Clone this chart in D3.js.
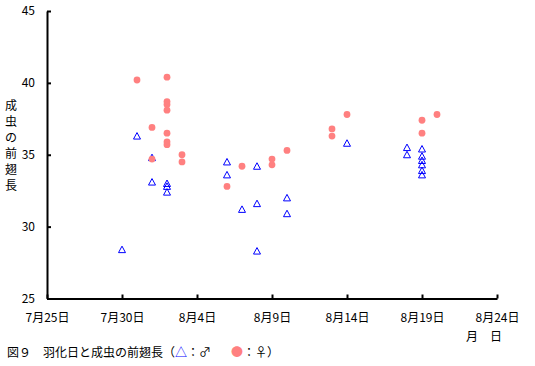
<!DOCTYPE html>
<html lang="ja">
<head>
<meta charset="UTF-8">
<title>羽化日と成虫の前翅長</title>
<script src="https://cdn.jsdelivr.net/npm/d3@7"></script>
<style>
  body { margin: 0; background: #fff; }
  svg { display: block; font-family: "Noto Sans CJK JP", sans-serif; }
</style>
</head>
<body>
<svg width="535" height="366"></svg>
<script>
// 羽化日 (月-日) と前翅長 (mm)
const maleDates = ["07-30", "07-31", "08-01", "08-01", "08-02", "08-02", "08-02",
  "08-06", "08-06", "08-07", "08-08", "08-08", "08-08", "08-10", "08-10", "08-14",
  "08-18", "08-18", "08-19", "08-19", "08-19", "08-19", "08-19", "08-19"];
const maleValues = [28.4, 36.3, 34.8, 33.1, 33.0, 32.8, 32.4,
  34.5, 33.6, 31.2, 34.2, 31.6, 28.3, 32.0, 30.9, 35.8,
  35.5, 35.0, 35.4, 34.9, 34.6, 34.3, 33.9, 33.6];

const femaleDates = ["07-31", "08-01", "08-01", "08-02", "08-02", "08-02", "08-02",
  "08-02", "08-02", "08-02", "08-03", "08-03", "08-06", "08-07", "08-09", "08-09",
  "08-10", "08-13", "08-13", "08-14", "08-19", "08-19", "08-20"];
const femaleValues = [40.2, 36.9, 34.7, 40.4, 38.7, 38.5, 38.1,
  36.5, 35.9, 35.7, 35.0, 34.5, 32.8, 34.2, 34.7, 34.3,
  35.3, 36.8, 36.3, 37.8, 37.4, 36.5, 37.8];

const xTicks = ["07-25", "07-30", "08-04", "08-09", "08-14", "08-19", "08-24"];
const yTicks = [25, 30, 35, 40, 45];

const parse = d3.utcParse("%Y-%m-%d");
const toDate = s => parse("2000-" + s);
const fmt = d => (d.getUTCMonth() + 1) + "月" + d.getUTCDate() + "日";

const svg = d3.select("svg");

const x = d3.scaleUtc()
  .domain([toDate("07-25"), toDate("08-24")])
  .range([47, 497]);
const y = d3.scaleLinear()
  .domain([25, 45])
  .range([298.5, 11]);

// axes
const xAxis = svg.append("g")
  .attr("transform", "translate(0,298.5)")
  .call(d3.axisBottom(x)
    .tickValues(xTicks.map(toDate))
    .tickFormat(fmt)
    .tickSize(-4)
    .tickSizeOuter(0)
    .tickPadding(15));

const yAxis = svg.append("g")
  .attr("transform", "translate(47,0)")
  .call(d3.axisLeft(y)
    .tickValues(yTicks)
    .tickSize(-4)
    .tickSizeOuter(0)
    .tickPadding(12));

[xAxis, yAxis].forEach(g => {
  g.select(".domain").attr("stroke", "#000").attr("stroke-width", 2);
  g.selectAll(".tick line").attr("stroke", "#000").attr("stroke-width", 2);
  g.selectAll(".tick text").attr("fill", "#000").attr("font-size", 12)
    .attr("font-family", "'Noto Sans CJK JP', sans-serif");
});

// ♂ triangles
svg.append("g")
  .selectAll("path")
  .data(maleDates)
  .join("path")
  .attr("transform", (d, i) => `translate(${x(toDate(d))},${y(maleValues[i])})`)
  .attr("d", "M0,-3.5L3.5,3L-3.5,3Z")
  .attr("fill", "none")
  .attr("stroke", "#0000ff")
  .attr("stroke-width", 1);

// ♀ circles
svg.append("g")
  .selectAll("circle")
  .data(femaleDates)
  .join("circle")
  .attr("cx", d => x(toDate(d)))
  .attr("cy", (d, i) => y(femaleValues[i]))
  .attr("r", 3.4)
  .attr("fill", "#ff8080");

// y label (vertical)
const yLabel = svg.append("text")
  .attr("font-size", 12)
  .attr("text-anchor", "middle");
Array.from("成虫の前翅長").forEach((c, i) => {
  yLabel.append("tspan").attr("x", 11).attr("y", 110 + i * 16).text(c);
});

svg.append("text")
  .attr("x", 484).attr("y", 341)
  .attr("font-size", 12)
  .attr("text-anchor", "middle")
  .text("月　日");

// caption
const cap = svg.append("text")
  .attr("x", 7).attr("y", 357)
  .attr("font-size", 12);
cap.append("tspan").text("図９　羽化日と成虫の前翅長（");
cap.append("tspan").attr("fill", "#0000ff").text("△");
cap.append("tspan").text("：♂");
cap.append("tspan").attr("x", 231).attr("fill", "#ff8080").text("●");
cap.append("tspan").text("：♀）");
</script>
</body>
</html>
